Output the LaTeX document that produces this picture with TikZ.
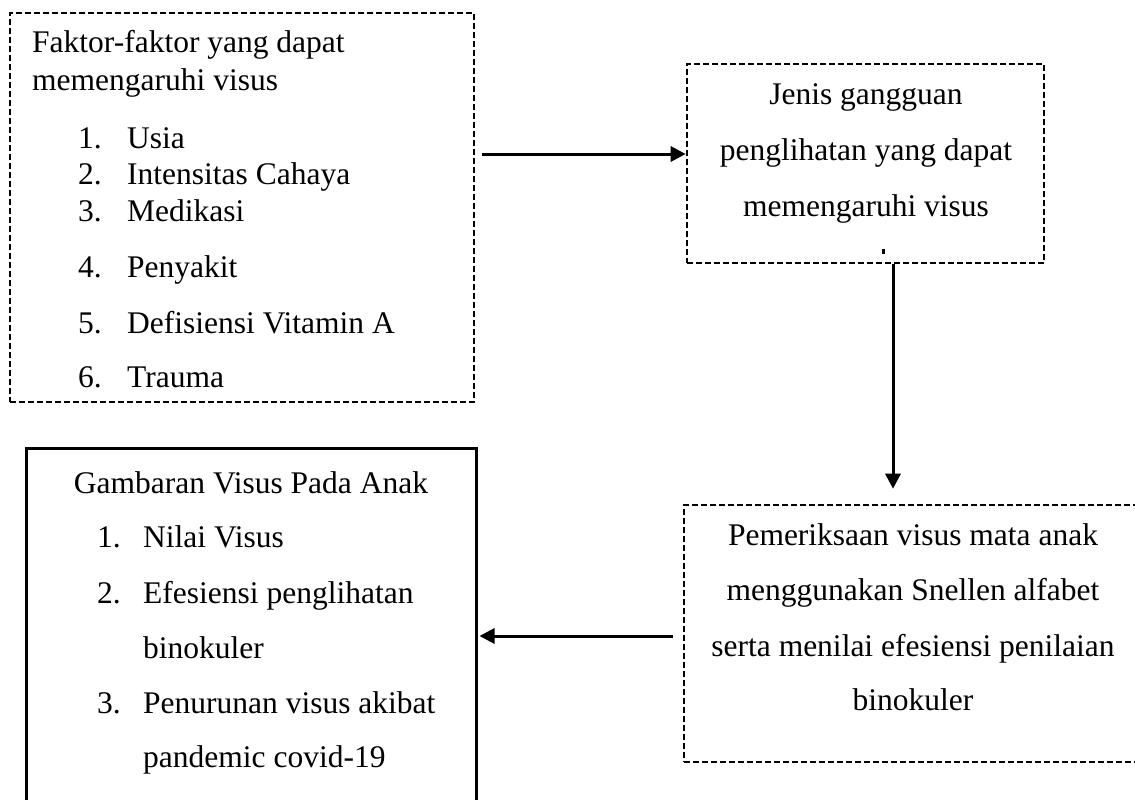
\documentclass[tikz,border=0pt]{standalone}
\usepackage{fontspec}
\setmainfont{Liberation Serif}
\usetikzlibrary{arrows.meta}
\begin{document}
\begin{tikzpicture}[x=1pt,y=-1pt,
  dbox/.style={draw, dash pattern=on 6pt off 3pt, line width=2.6pt, inner sep=0pt, rectangle},
  sbox/.style={draw, line width=3pt, inner sep=0pt, rectangle},
  txt/.style={font=\fontsize{31.5}{37}\selectfont, inner sep=0pt},
  arr/.style={line width=3pt, -{Triangle[length=15pt,width=15pt]}},
]
\useasboundingbox (0,0) rectangle (1135,800);
\clip (0,0) rectangle (1135,800);

% boxes
\node[dbox, minimum width=464pt, minimum height=389pt] (b1) at (242,207.5) {};
\node[dbox, minimum width=357pt, minimum height=199pt] (b2) at (865.5,163.5) {};
\node[dbox, minimum width=459pt, minimum height=257pt] (b3) at (913.5,633.5) {};
\node[sbox, minimum width=450pt, minimum height=367pt] (b4) at (251,631.5) {};

% box 1 text
\node[txt, anchor=base west] (t1a) at (32,53) {Faktor-faktor yang dapat};
\node[txt, anchor=base west] (t1b) at (32,90) {memengaruhi visus};
\node[txt, anchor=base west] (n11) at (78,148) {1.};
\node[txt, anchor=base west] (i11) at (127,148) {Usia};
\node[txt, anchor=base west] (n12) at (78,184) {2.};
\node[txt, anchor=base west] (i12) at (127,184) {Intensitas Cahaya};
\node[txt, anchor=base west] (n13) at (78,221) {3.};
\node[txt, anchor=base west] (i13) at (127,221) {Medikasi};
\node[txt, anchor=base west] (n14) at (78,277) {4.};
\node[txt, anchor=base west] (i14) at (127,277) {Penyakit};
\node[txt, anchor=base west] (n15) at (78,333) {5.};
\node[txt, anchor=base west] (i15) at (127,333) {Defisiensi Vitamin A};
\node[txt, anchor=base west] (n16) at (78,387) {6.};
\node[txt, anchor=base west] (i16) at (127,387) {Trauma};

% box 2 text
\node[txt, anchor=base] (t2a) at (866,104) {Jenis gangguan};
\node[txt, anchor=base] (t2b) at (866,160) {penglihatan yang dapat};
\node[txt, anchor=base] (t2c) at (866,216) {memengaruhi visus};
\fill (882,249) rectangle (885,254);

% box 3 text
\node[txt, anchor=base] (t3a) at (913,545) {Pemeriksaan visus mata anak};
\node[txt, anchor=base] (t3b) at (913,600) {menggunakan Snellen alfabet};
\node[txt, anchor=base] (t3c) at (913,656) {serta menilai efesiensi penilaian};
\node[txt, anchor=base] (t3d) at (913,710) {binokuler};

% box 4 text
\node[txt, anchor=base] (t4a) at (251,493) {Gambaran Visus Pada Anak};
\node[txt, anchor=base west] (n41) at (97,547) {1.};
\node[txt, anchor=base west] (i41) at (143,547) {Nilai Visus};
\node[txt, anchor=base west] (n42) at (97,603) {2.};
\node[txt, anchor=base west] (i42) at (143,603) {Efesiensi penglihatan};
\node[txt, anchor=base west] (i42b) at (143,658) {binokuler};
\node[txt, anchor=base west] (n43) at (97,713) {3.};
\node[txt, anchor=base west] (i43) at (143,713) {Penurunan visus akibat};
\node[txt, anchor=base west] (i43b) at (143,767) {pandemic covid-19};

% connectors
\coordinate (r1) at (0,154);
\coordinate (c2) at (893,0);
\coordinate (r3) at (0,636);
\draw[arr] ([xshift=7pt]b1.east |- r1) -- (b2.west |- r1);
\draw[arr] (b2.south -| c2) -- ([yshift=15pt]b3.north -| c2);
\draw[arr] ([xshift=-10pt]b3.west |- r3) -- ([xshift=2pt]b4.east |- r3);
\end{tikzpicture}
\end{document}
